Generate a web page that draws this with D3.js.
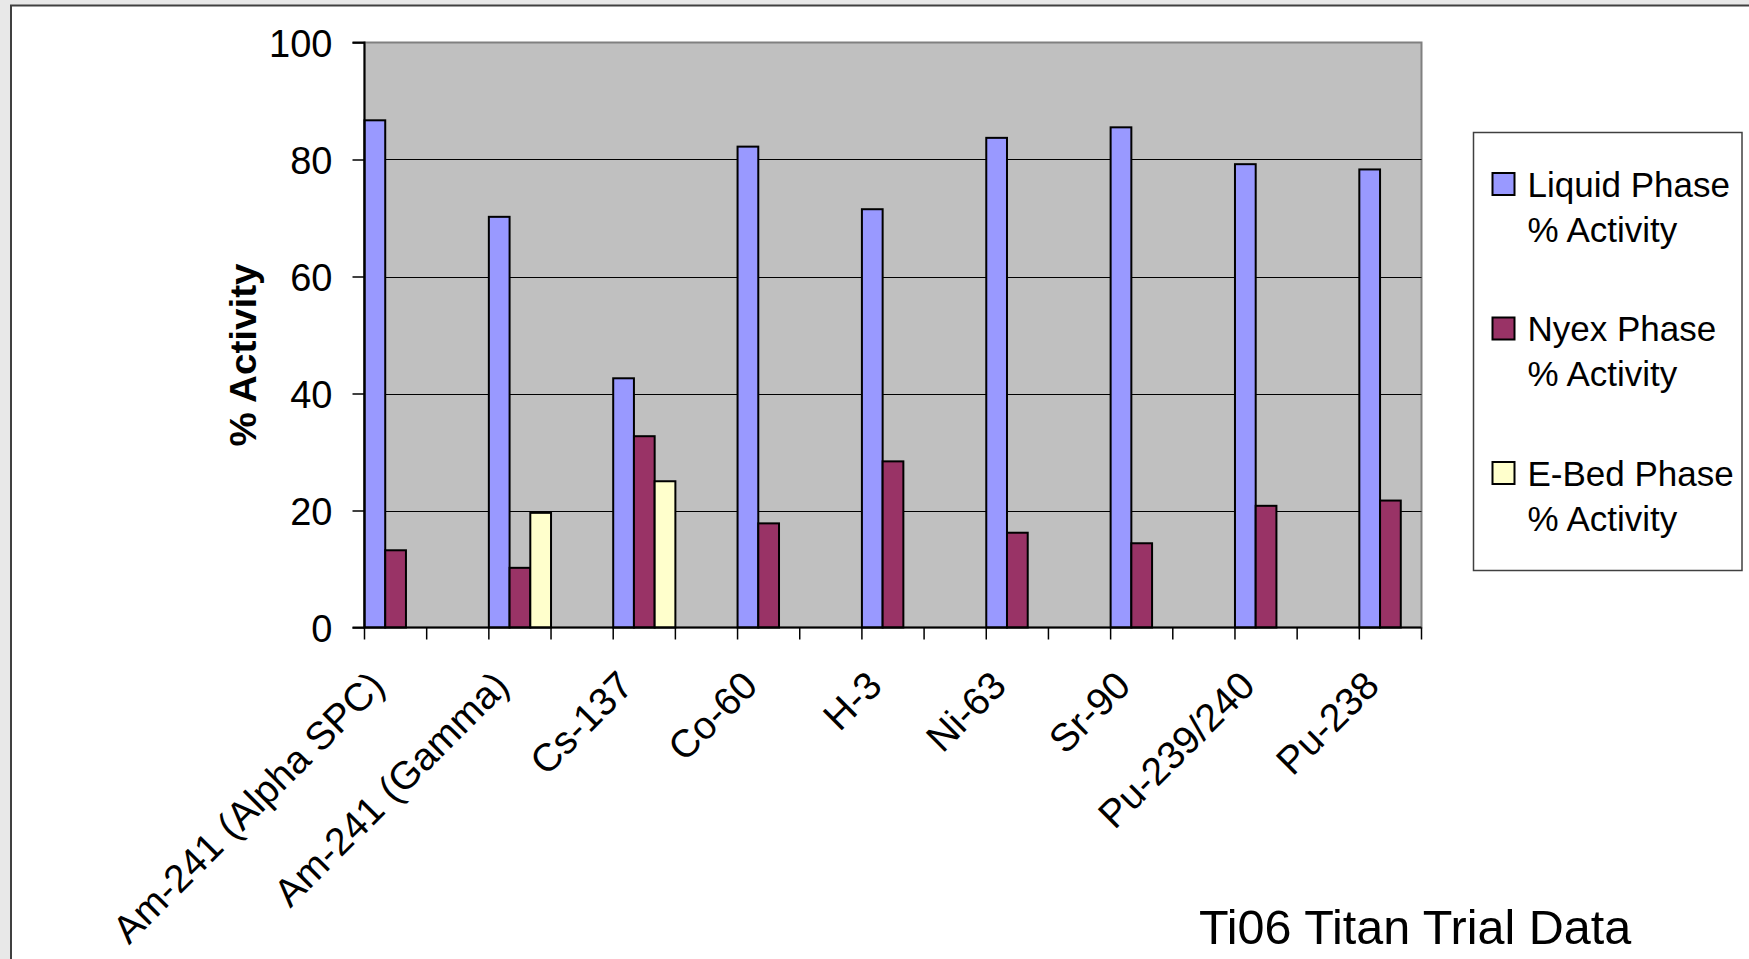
<!DOCTYPE html>
<html>
<head>
<meta charset="utf-8">
<script src="https://cdn.jsdelivr.net/npm/d3@7"></script>
<style>
  html, body { margin: 0; padding: 0; background: #e8e8e8; }
  svg { display: block; font-family: "Liberation Sans", Arial, sans-serif; }
</style>
</head>
<body>
<svg id="chart" width="1749" height="959"></svg>
<script>
// Nuclide categories and phase activity (% of total)
const categories = ["Am-241 (Alpha SPC)", "Am-241 (Gamma)", "Cs-137", "Co-60", "H-3", "Ni-63", "Sr-90", "Pu-239/240", "Pu-238"];
const liquidPhase = [86.7, 70.2, 42.6, 82.2, 71.5, 83.7, 85.5, 79.2, 78.3];
const nyexPhase   = [13.2, 10.2, 32.7, 17.8, 28.4, 16.2, 14.4, 20.8, 21.7];
const ebedPhase   = [null, 19.6, 25.0, null, null, null, null, null, null];
const seriesNames = [["Liquid Phase", "% Activity"], ["Nyex Phase", "% Activity"], ["E-Bed Phase", "% Activity"]];
const seriesColors = ["#9999ff", "#993366", "#ffffcc"];
const yTicks = [0, 20, 40, 60, 80, 100];
const chartTitle = "Ti06 Titan Trial Data";
const yTitle = "% Activity";

const series = [liquidPhase, nyexPhase, ebedPhase];

const svg = d3.select("#chart");

// outer panel
svg.append("rect").attr("x", 0).attr("y", 0).attr("width", 1749).attr("height", 959).attr("fill", "#e8e8e8");
svg.append("rect").attr("x", 11).attr("y", 5.5).attr("width", 1760).attr("height", 980)
  .attr("fill", "#ffffff").attr("stroke", "#404040").attr("stroke-width", 2);

const plot = { left: 364.5, right: 1421.5, top: 42.5, bottom: 627.5 };

const x = d3.scaleBand().domain(categories).range([plot.left, plot.right]).paddingInner(0.5).paddingOuter(0);
const xs = d3.scaleBand().domain(d3.range(series.length)).range([0, x.bandwidth()]).padding(0);
const y = d3.scaleLinear().domain([0, 100]).range([plot.bottom, plot.top]);

// plot background
svg.append("rect").attr("x", plot.left).attr("y", plot.top)
  .attr("width", plot.right - plot.left).attr("height", plot.bottom - plot.top)
  .attr("fill", "#c0c0c0").attr("stroke", "#808080").attr("stroke-width", 2);

// gridlines
svg.append("g").selectAll("line").data(yTicks.filter(d => d > 0 && d < 100)).join("line")
  .attr("x1", plot.left).attr("x2", plot.right)
  .attr("y1", d => Math.round(y(d)) + 0.5).attr("y2", d => Math.round(y(d)) + 0.5)
  .attr("stroke", "#000").attr("stroke-width", 1.2);

// bars
const barData = [];
categories.forEach((c, i) => series.forEach((s, k) => {
  if (s[i] != null) barData.push({ c, k, v: s[i] });
}));
svg.append("g").selectAll("rect").data(barData).join("rect")
  .attr("x", d => x(d.c) + xs(d.k))
  .attr("y", d => y(d.v))
  .attr("width", xs.bandwidth())
  .attr("height", d => y(0) - y(d.v))
  .attr("fill", d => seriesColors[d.k])
  .attr("stroke", "#000").attr("stroke-width", 2);

// y axis
const yAxis = d3.axisLeft(y).tickValues(yTicks).tickSize(12).tickPadding(20).tickFormat(d3.format("d"));
const gy = svg.append("g").attr("transform", `translate(${plot.left},0)`).call(yAxis);
gy.select(".domain").attr("stroke", "#000").attr("stroke-width", 2).attr("d", `M-12,${plot.top}H0V${plot.bottom}`);
gy.selectAll(".tick line").attr("stroke", "#000").attr("stroke-width", 1.5);
gy.selectAll(".tick text").attr("font-size", 38).attr("fill", "#000")
  .attr("font-family", "'Liberation Sans', Arial, sans-serif").attr("dy", "0.36em");

// x axis line and tick marks at every band edge
const edges = [];
categories.forEach(c => { edges.push(x(c)); edges.push(x(c) + x.bandwidth()); });
svg.append("line").attr("x1", plot.left - 12).attr("x2", plot.right)
  .attr("y1", plot.bottom).attr("y2", plot.bottom).attr("stroke", "#000").attr("stroke-width", 2);
svg.append("g").selectAll("line").data(edges).join("line")
  .attr("x1", d => d).attr("x2", d => d)
  .attr("y1", plot.bottom).attr("y2", plot.bottom + 12)
  .attr("stroke", "#000").attr("stroke-width", 1.5);

// category labels
svg.append("g").selectAll("text").data(categories).join("text")
  .attr("transform", d => `translate(${x(d) + x.bandwidth() / 2 - 9},688) rotate(-45)`)
  .attr("text-anchor", "end")
  .attr("font-size", 39)
  .attr("fill", "#000")
  .text(d => d);

// y axis title
svg.append("text")
  .attr("transform", "translate(256,355) rotate(-90)")
  .attr("text-anchor", "middle")
  .attr("font-size", 36).attr("font-weight", "bold")
  .attr("textLength", 183).attr("lengthAdjust", "spacingAndGlyphs")
  .text(yTitle);

// legend
const legend = svg.append("g");
legend.append("rect").attr("x", 1473.5).attr("y", 132.5).attr("width", 268.5).attr("height", 438)
  .attr("fill", "#fff").attr("stroke", "#404040").attr("stroke-width", 1.5);
const entry = legend.selectAll("g.entry").data(seriesNames).join("g")
  .attr("class", "entry")
  .attr("transform", (d, i) => `translate(0,${i * 144.5})`);
entry.append("rect").attr("x", 1492.5).attr("y", 173).attr("width", 22).attr("height", 22)
  .attr("fill", (d, i) => seriesColors[i]).attr("stroke", "#000").attr("stroke-width", 2);
entry.append("text").attr("x", 1527.5).attr("y", 196.5).attr("font-size", 35).attr("fill", "#000")
  .selectAll("tspan").data(d => d).join("tspan")
  .attr("x", 1527.5).attr("dy", (d, j) => j === 0 ? 0 : 45).text(d => d);

// chart caption
svg.append("text").attr("x", 1199).attr("y", 944).attr("font-size", 48.5).attr("fill", "#000").text(chartTitle);
</script>
</body>
</html>
